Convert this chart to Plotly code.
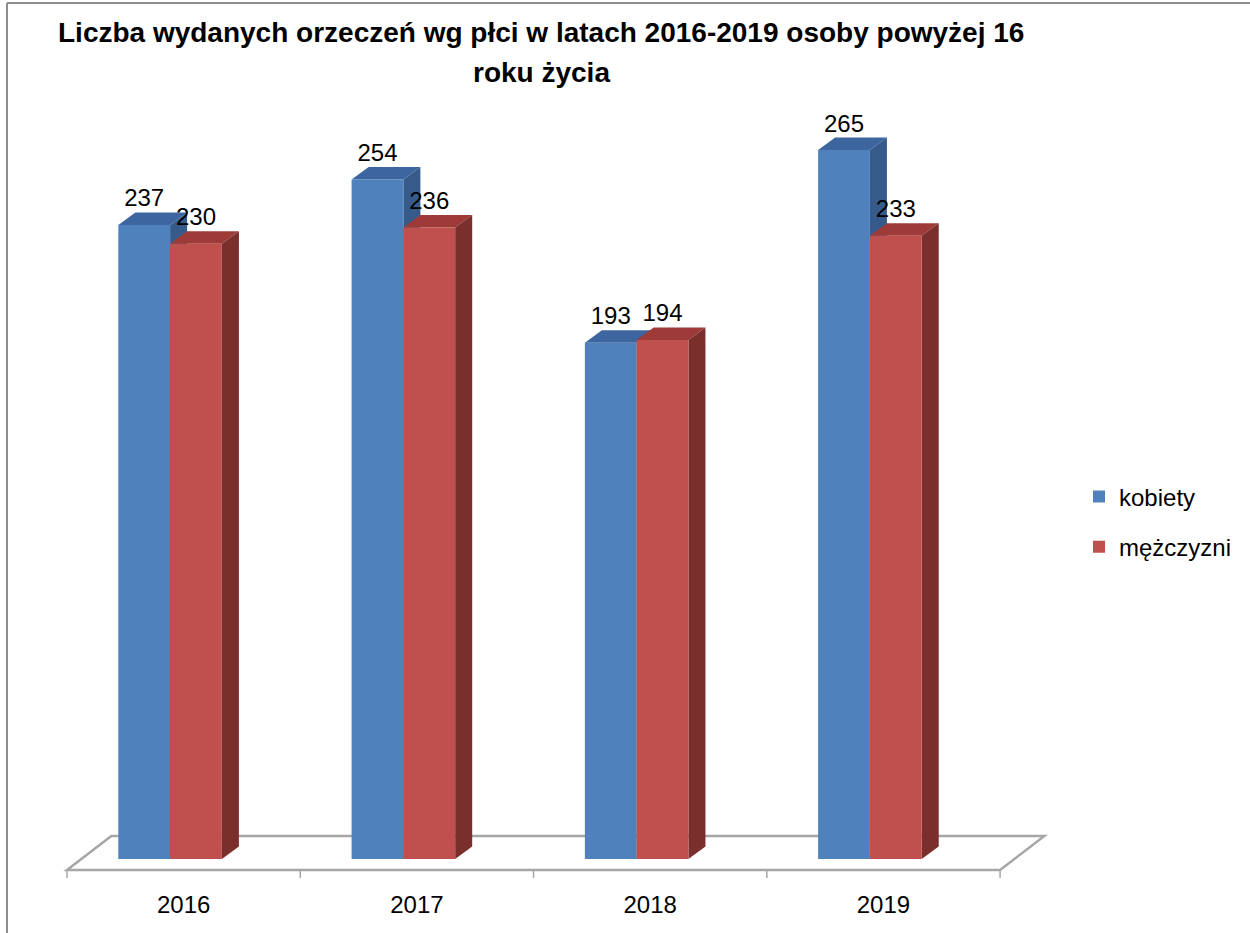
import plotly.graph_objects as go

# ---------------- data ----------------
years = ["2016", "2017", "2018", "2019"]
kobiety = [237, 254, 193, 265]
mezczyzni = [230, 236, 194, 233]
series_names = ["kobiety", "mężczyzni"]
title_line1 = "Liczba wydanych orzeczeń wg płci w latach 2016-2019 osoby powyżej 16"
title_line2 = "roku życia"

# ---------------- style ----------------
W, H = 1250, 933
ML, MR, MT, MB = 60, 200, 100, 45
PLOT_W = W - ML - MR
PLOT_H = H - MT - MB
X_RANGE = [-0.53, 3.714]
Y_RANGE = [-10.84, 283.7]
FONT = "Liberation Sans"

BLUE_FRONT, BLUE_TOP, BLUE_SIDE = "#4F81BD", "#3D659F", "#365B8B"
RED_FRONT, RED_TOP, RED_SIDE = "#C0504D", "#9E3B38", "#7B2F2D"
FLOOR_COL = "#A6A6A6"

BAR_W = 0.222
OFFSETS = [-0.28, -0.058]
DX, DY = 0.073, 4.67          # 3D depth of the bars (x units, y units)
FLOOR_FRONT, FLOOR_BACK = -4.1, 8.6
FLOOR_DX = 0.19
TICK_BOTTOM = -7.1


def px_x(px):
    return (px - ML) / PLOT_W


def px_y(py):
    return (H - MB - py) / PLOT_H


def path_shape(pts, fill, line=None, layer="below"):
    d = "M " + " L ".join(f"{x:.4f},{y:.4f}" for x, y in pts) + " Z"
    return dict(type="path", path=d, xref="x", yref="y", fillcolor=fill,
                line=line or dict(width=0), layer=layer)


n = len(years)
xs = list(range(n))
series = [kobiety, mezczyzni]
fronts = [BLUE_FRONT, RED_FRONT]
tops = [BLUE_TOP, RED_TOP]
sides = [BLUE_SIDE, RED_SIDE]

fig = go.Figure()

shapes = []
# floor slab
shapes.append(path_shape(
    [(-0.5, FLOOR_FRONT), (n - 0.5, FLOOR_FRONT),
     (n - 0.5 + FLOOR_DX, FLOOR_BACK), (-0.5 + FLOOR_DX, FLOOR_BACK)],
    "white", dict(color=FLOOR_COL, width=2.5)))
# category boundary ticks
tick_path = " ".join(f"M {b - 0.5:.4f},{FLOOR_FRONT} L {b - 0.5:.4f},{TICK_BOTTOM}" for b in range(n + 1))
shapes.append(dict(type="path", path=tick_path, xref="x", yref="y",
                   line=dict(color=FLOOR_COL, width=1.5), layer="below"))

# 3D top and side faces (front faces are the bar traces)
for i in xs:
    for s in range(2):
        v = series[s][i]
        xl = i + OFFSETS[s]
        xr = xl + BAR_W
        shapes.append(path_shape([(xl, v), (xl + DX, v + DY), (xr + DX, v + DY), (xr, v)], tops[s]))
        shapes.append(path_shape([(xr, 0), (xr, v), (xr + DX, v + DY), (xr + DX, DY)], sides[s]))

for s in range(2):
    fig.add_trace(go.Bar(
        x=xs, y=series[s], name=series_names[s], width=BAR_W, offset=OFFSETS[s],
        marker=dict(color=fronts[s], line=dict(width=0)),
        legendgroup=series_names[s], hoverinfo="x+y"))

for s in range(2):
    fig.add_trace(go.Scatter(
        x=[i + OFFSETS[s] + BAR_W / 2 for i in xs],
        y=[v + DY for v in series[s]],
        text=[str(v) for v in series[s]],
        mode="text", textposition="top center",
        textfont=dict(family=FONT, size=24, color="black"),
        showlegend=False, hoverinfo="skip", cliponaxis=False))

# outer frame lines of the picture
shapes.append(dict(type="line", xref="paper", yref="paper",
                   x0=px_x(7), y0=px_y(3), x1=px_x(W), y1=px_y(3),
                   line=dict(color="#8C8C8C", width=2), layer="above"))
shapes.append(dict(type="line", xref="paper", yref="paper",
                   x0=px_x(7), y0=px_y(3), x1=px_x(7), y1=px_y(H),
                   line=dict(color="#8C8C8C", width=2), layer="above"))

annotations = [
    dict(text=f"<b>{title_line1}</b>", x=px_x(541), y=px_y(32), xref="paper", yref="paper",
         xanchor="center", yanchor="middle", showarrow=False,
         font=dict(family=FONT, size=28, color="black")),
    dict(text=f"<b>{title_line2}</b>", x=px_x(541), y=px_y(72), xref="paper", yref="paper",
         xanchor="center", yanchor="middle", showarrow=False,
         font=dict(family=FONT, size=28, color="black")),
]

fig.update_layout(
    width=W, height=H,
    margin=dict(l=ML, r=MR, t=MT, b=MB),
    paper_bgcolor="white", plot_bgcolor="white",
    barmode="overlay",
    shapes=shapes, annotations=annotations,
    font=dict(family=FONT, size=24, color="black"),
    legend=dict(xref="container", yref="container",
                x=1079 / W, y=1 - 522 / H, xanchor="left", yanchor="middle",
                font=dict(family=FONT, size=24, color="black"),
                tracegroupgap=16, bgcolor="rgba(0,0,0,0)"),
    xaxis=dict(range=X_RANGE, tickvals=xs, ticktext=years, ticks="",
               showgrid=False, zeroline=False, showline=False,
               tickfont=dict(family=FONT, size=24, color="black")),
    yaxis=dict(range=Y_RANGE, visible=False, showgrid=False, zeroline=False),
)

fig.write_html("out.html", config={"displayModeBar": False},
               post_script="document.body.style.margin='0px';document.body.style.overflow='hidden';")
